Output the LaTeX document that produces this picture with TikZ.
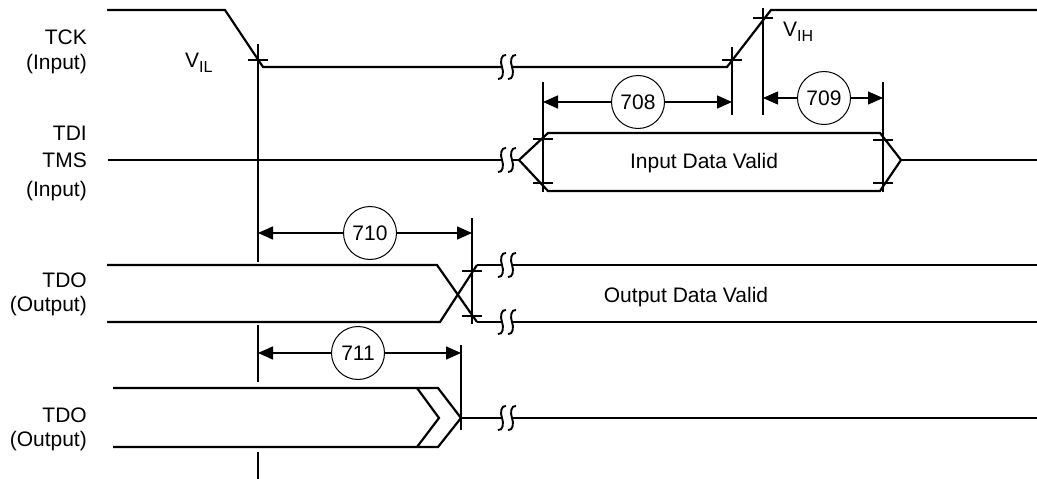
\documentclass[tikz,border=0pt]{standalone}
\usepackage{fontspec}
\setmainfont{Liberation Sans}
\usetikzlibrary{arrows.meta}
\newcommand\subtxt[1]{\raisebox{-5pt}{\fontsize{16}{16}\selectfont #1}}
\begin{document}
\begin{tikzpicture}[x=1pt,y=-1pt,
  sig/.style={line width=2.2pt, line join=miter},
  vln/.style={line width=1.9pt},
  dimar/.style={line width=1.6pt, -{Triangle[length=15pt,width=13pt]}},
  dimthin/.style={line width=1.1pt, -{Triangle[length=15pt,width=13pt]}},
  num/.style={circle, draw, line width=1pt, minimum size=53pt, inner sep=0pt, fill=white, font=\fontsize{21}{25}\selectfont},
  lbl/.style={font=\fontsize{21}{25}\selectfont, anchor=base east, inner sep=0pt},
  txt/.style={font=\fontsize{21}{25}\selectfont, inner sep=0pt, anchor=base},
  brk/.pic={
    \draw[line width=1.9pt] (-1,-12) .. controls (-6,-13) and (-7,-5) .. (-5,0) .. controls (-3,5) and (-4,13) .. (-9,12);
    \draw[line width=1.9pt] (9,-12) .. controls (4,-13) and (3,-5) .. (5,0) .. controls (7,5) and (6,13) .. (1,12);
  }]
\useasboundingbox (0,0) rectangle (1037,479);

% labels
\node[lbl] (l1) at (87,45) {TCK};
\node[lbl] (l2) at (87,69) {(Input)};
\node[lbl] (l3) at (87,140) {TDI};
\node[lbl] (l4) at (87,167) {TMS};
\node[lbl] (l5) at (87,196) {(Input)};
\node[lbl] (l6) at (87,287) {TDO};
\node[lbl] (l7) at (87,311) {(Output)};
\node[lbl] (l8) at (87,422) {TDO};
\node[lbl] (l9) at (87,446) {(Output)};

% TCK
\draw[sig] (107,10) -- (225,10) -- (263,67) -- (502,67);
\draw[sig] (512,67) -- (727,67) -- (771,10) -- (1037,10);
\pic at (507,67) {brk};
\node[txt, anchor=base west] (vil) at (185,67) {V\subtxt{IL}};
\node[txt, anchor=base west] (vih) at (783,36) {V\subtxt{IH}};

% TDI/TMS
\draw[sig] (108,160) -- (502,160);
\pic at (507,160) {brk};
\draw[sig] (548,133) -- (519,160) -- (548,191) -- (880,191) -- (901,160) -- (880,133) -- cycle;
\draw[sig] (512,160) -- (519,160);
\draw[sig] (901,160) -- (1037,160);
\node[txt] (idv) at (704,168) {Input Data Valid};

% TDO 1
\draw[sig] (107,265) -- (437,265) -- (477,322);
\draw[sig] (107,322) -- (440,322) -- (477,265);
\draw[sig] (477,265) -- (502,265);
\draw[sig] (477,322) -- (502,322);
\pic at (507,265) {brk};
\pic at (507,322) {brk};
\draw[sig] (512,265) -- (1037,265);
\draw[sig] (512,322) -- (1037,322);
\node[txt] (odv) at (686,302) {Output Data Valid};

% TDO 2
\draw[sig] (113,388) -- (438,388) -- (461,418) -- (438,447) -- (113,447);
\draw[sig] (417,388) -- (439,418) -- (417,447);
\draw[sig] (461,418) -- (502,418);
\pic at (507,418) {brk};
\draw[sig] (512,418) -- (1037,418);

% vertical reference lines
\draw[vln] (258,44) -- (258,262);
\draw[vln] (258,325) -- (258,382);
\draw[vln] (258,452) -- (258,479);
\draw[vln] (732,47) -- (732,115);
\draw[vln] (763,8) -- (763,115);
\draw[vln] (543,82) -- (543,192);
\draw[vln] (883,82) -- (883,192);
\draw[vln] (472,218) -- (472,324);
\draw[vln] (461,345) -- (461,430);

% ticks
\foreach \x/\y in {258/60, 732/60, 763/18, 543/139, 543/183, 883/140, 883/183, 472/271, 472/316}
  \draw[vln] (\x-10,\y) -- (\x+10,\y);

% dimension markers
\node[num] (c708) at (638,102) {708};
\node[num] (c709) at (824,98) {709};
\node[num] (c710) at (370,233) {710};
\node[num] (c711) at (358,353) {711};
\coordinate (a708l) at (543,102);
\coordinate (a708r) at (732,102);
\coordinate (a709l) at (763,98);
\coordinate (a709r) at (883,98);
\coordinate (a710l) at (258,233);
\coordinate (a710r) at (472,233);
\coordinate (a711l) at (258,353);
\coordinate (a711r) at (461,353);
\draw[dimar] (c708) -- (a708l);
\draw[dimar] (c708) -- (a708r);
\draw[dimthin] (c709) -- (a709l);
\draw[dimthin] (c709) -- (a709r);
\draw[dimar] (c710) -- (a710l);
\draw[dimar] (c710) -- (a710r);
\draw[dimar] (c711) -- (a711l);
\draw[dimar] (c711) -- (a711r);
\end{tikzpicture}
\end{document}
